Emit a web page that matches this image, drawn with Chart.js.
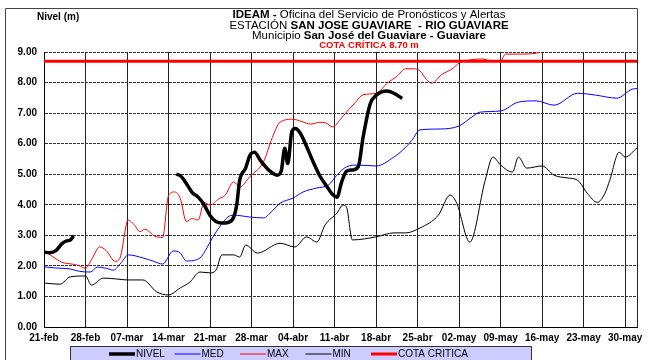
<!DOCTYPE html>
<html>
<head>
<meta charset="utf-8">
<script src="https://cdn.jsdelivr.net/npm/chart.js@4/dist/chart.umd.min.js"></script>
<style>
  body { margin: 0; background: #fff; }
</style>
</head>
<body>
<canvas id="grafico" width="653" height="360"></canvas>
<script>
// etiquetas semanales del eje x (dia 0 = 21-feb)
const fechas = ['21-feb', '28-feb', '07-mar', '14-mar', '21-mar', '28-mar', '04-abr', '11-abr',
  '18-abr', '25-abr', '02-may', '09-may', '16-may', '23-may', '30-may'];

// NIVEL (dias desde 21-feb, nivel en m) - null corta la linea
const nivelDias = [0, 1, 2, 3, 3.8, 4.4, 5, 10,
  22.3, 23, 24, 25, 26, 27, 28, 29, 30, 31, 32, 32.5, 33, 34, 34.8, 35.5, 36.5, 38, 39.3, 40, 40.6, 41.1,
  41.8, 42.4, 43.2, 44.3, 45.4, 46.5, 47.7, 48.6, 49.4, 50.2, 51, 52, 53, 53.8, 55, 56, 57.8, 59, 60.4];
const nivelValores = [2.45, 2.43, 2.5, 2.72, 2.82, 2.84, 2.98, null,
  5.0, 4.95, 4.7, 4.4, 4.25, 4.0, 3.65, 3.45, 3.4, 3.42, 3.6, 4.0, 4.8, 5.2, 5.65, 5.72, 5.45, 5.12, 4.97, 5.1, 5.85, 5.35,
  6.4, 6.5, 6.35, 5.9, 5.4, 4.95, 4.6, 4.35, 4.25, 4.75, 5.1, 5.14, 5.25, 6.2, 7.3, 7.58, 7.72, 7.65, 7.48];

const medDias = [0, 2, 4.4, 6, 7.8, 9, 10.5, 11.7, 13, 14.2, 16.7, 18.5, 20, 21.8, 23, 24, 26.3, 27.5, 28.5,
  29.7, 31, 32, 34.7, 37, 38.5, 39.8, 42, 43.7, 46, 48, 49.4, 51, 53, 56, 59, 60.5, 62, 63.4, 66.8, 70,
  72, 73.5, 77, 80, 83, 86, 90, 93, 96.6, 99.3, 100];
const medValores = [1.97, 1.93, 1.9, 1.82, 1.8, 1.96, 1.92, 1.86, 2.1, 2.36, 2.26, 2.15, 2.06, 2.49, 2.42, 2.16, 2.26, 2.6, 2.95,
  3.3, 3.6, 3.66, 3.6, 3.57, 3.8, 4.05, 4.22, 4.42, 4.55, 4.65, 4.97, 5.24, 5.3, 5.27, 5.56, 5.79, 6.1, 6.45, 6.48, 6.58,
  6.85, 7.03, 7.07, 7.36, 7.4, 7.26, 7.65, 7.59, 7.49, 7.79, 7.8];

const maxDias = [0, 1.5, 3, 5, 6, 7, 8, 9.4, 10.5, 12, 12.8, 14.2, 15.2, 16.2, 17, 18.7, 20, 21, 22, 23, 24, 25, 26,
  27, 28, 29.5, 30.5, 32, 33, 34.7, 37, 38.5, 39.8, 42, 43.5, 45, 46.5, 47.5, 48.7, 50, 51, 52.5, 53.8, 56,
  58, 59.5, 61, 62.5, 63.4, 64.5, 65.4, 67, 69, 70, 71.5, 74, 75.5, 77, 77.8, 80, 83, 84, 86, 90, 95, 100];
const maxValores = [2.49, 2.3, 2.12, 2.05, 2.0, 1.92, 2.2, 2.62, 2.5, 2.15, 2.25, 3.5, 3.35, 3.12, 3.2, 2.97, 2.93, 4.3, 4.42, 4.2, 3.45, 3.55, 3.5,
  4.08, 3.99, 4.2, 4.3, 4.75, 4.58, 4.92, 5.4, 6.2, 6.7, 6.8, 6.72, 6.64, 6.7, 6.68, 6.55, 6.8, 7.03, 7.35, 7.6, 7.65,
  8.0, 8.2, 8.45, 8.45, 8.38, 8.1, 7.98, 8.25, 8.47, 8.64, 8.73, 8.77, 8.7, 8.7, 8.93, 8.93, 8.96, 9.03, 9.2, 9.3, 9.4, 9.5];

const minDias = [0, 2.7, 4.4, 7, 8, 10, 12.3, 14, 16.7, 19, 21, 23, 24.6, 26.3, 28, 29, 30, 32, 33, 34, 36, 39.8,
  42.3, 44.3, 46, 47.4, 49.4, 50.4, 51, 52, 56, 59, 61, 63.4, 66.5, 68.5, 69.6, 71.8, 74.4, 75.7, 77, 79, 80,
  81.4, 84, 86, 88.2, 90, 91.6, 93.3, 94.6, 95.4, 97, 98, 100];
const minValores = [1.44, 1.4, 1.64, 1.67, 1.37, 1.6, 1.57, 1.54, 1.54, 1.15, 1.05, 1.28, 1.47, 1.8, 1.77, 1.86, 2.36, 2.36, 2.29, 2.68, 2.42, 2.74,
  2.62, 2.95, 2.78, 3.34, 3.73, 3.99, 3.93, 2.85, 2.95, 3.08, 3.08, 3.24, 3.66, 4.32, 4.05, 2.78, 4.8, 5.56, 5.3, 5.07, 5.56,
  5.2, 5.27, 4.97, 4.88, 4.8, 4.38, 4.08, 4.38, 4.8, 5.72, 5.56, 5.86];

const cotaCritica = 8.7;
const diasTotales = 100;

const puntos = (dias, vals) => dias.map((d, i) => ({ x: d, y: vals[i] }));

Chart.defaults.font.family = "'Liberation Sans', Arial, sans-serif";
Chart.defaults.color = '#000';

// titulo con partes en negrita
const titulo = {
  id: 'titulo',
  afterDraw(chart) {
    const ctx = chart.ctx;
    const lineas = [
      { y: 15, partes: [['bold', 'IDEAM - '], ['normal', 'Oficina del Servicio de Pronósticos y Alertas']] },
      { y: 26, partes: [['normal', 'ESTACIÓN '], ['bold', 'SAN JOSE GUAVIARE  - RIO GUAVIARE']] },
      { y: 36, partes: [['normal', 'Municipio '], ['bold', 'San José del Guaviare - Guaviare']] }
    ];
    ctx.save();
    ctx.textBaseline = 'middle';
    ctx.fillStyle = '#000';
    lineas.forEach(l => {
      let ancho = 0;
      l.partes.forEach(p => { ctx.font = p[0] + " 11.5px 'Liberation Sans', Arial"; ancho += ctx.measureText(p[1]).width; });
      let x = 369 - ancho / 2;
      l.partes.forEach(p => {
        ctx.font = p[0] + " 11.5px 'Liberation Sans', Arial";
        ctx.textAlign = 'left';
        ctx.fillText(p[1], x, l.y);
        x += ctx.measureText(p[1]).width;
      });
    });
    ctx.font = "bold 9.5px 'Liberation Sans', Arial";
    ctx.fillStyle = '#ff0000';
    ctx.textAlign = 'center';
    ctx.fillText('COTA CRÍTICA 8.70 m', 369, 45);
    ctx.fillStyle = '#000';
    ctx.textAlign = 'left';
    ctx.font = "bold 10px 'Liberation Sans', Arial";
    ctx.fillText('Nivel (m)', 37, 17);
    // marco
    ctx.strokeStyle = '#444';
    ctx.lineWidth = 1;
    ctx.beginPath();
    ctx.moveTo(5.5, 360);
    ctx.lineTo(5.5, 8.5);
    ctx.lineTo(637.5, 8.5);
    ctx.lineTo(637.5, chart.chartArea.top);
    ctx.stroke();
    ctx.restore();
  }
};

// leyenda en caja lila
const leyenda = {
  id: 'leyenda',
  afterDraw(chart) {
    const ctx = chart.ctx;
    ctx.save();
    ctx.fillStyle = '#ccccff';
    ctx.strokeStyle = '#333';
    ctx.lineWidth = 1;
    ctx.fillRect(70.5, 346.5, 461, 16);
    ctx.strokeRect(70.5, 346.5, 461, 16);
    ctx.font = "10px 'Liberation Sans', Arial";
    ctx.textBaseline = 'middle';
    ctx.textAlign = 'left';
    chart.data.datasets.forEach((ds, i) => {
      const x = 109 + i * 65.5;
      const y = 354;
      ctx.strokeStyle = ds.borderColor;
      ctx.lineWidth = ds.borderWidth;
      ctx.beginPath();
      ctx.moveTo(x, y);
      ctx.lineTo(x + 26, y);
      ctx.stroke();
      ctx.fillStyle = '#000';
      ctx.fillText(ds.label, x + 27, y);
    });
    ctx.restore();
  }
};

new Chart(document.getElementById('grafico'), {
  type: 'line',
  data: {
    datasets: [
      { label: 'NIVEL', data: puntos(nivelDias, nivelValores), borderColor: '#000', borderWidth: 3.5 },
      { label: 'MED', data: puntos(medDias, medValores), borderColor: '#0000ff', borderWidth: 1 },
      { label: 'MAX', data: puntos(maxDias, maxValores), borderColor: '#ff0000', borderWidth: 1 },
      { label: 'MIN', data: puntos(minDias, minValores), borderColor: '#000', borderWidth: 1 },
      { label: 'COTA CRITICA', data: [{ x: 0, y: cotaCritica }, { x: diasTotales, y: cotaCritica }], borderColor: '#ff0000', borderWidth: 3 }
    ]
  },
  options: {
    responsive: false,
    animation: false,
    devicePixelRatio: 1,
    layout: { padding: { left: 0, right: 16, top: 52, bottom: 0 } },
    elements: {
      point: { radius: 0 },
      line: { cubicInterpolationMode: 'monotone', fill: false }
    },
    plugins: {
      legend: { display: false },
      tooltip: { enabled: false }
    },
    scales: {
      x: {
        type: 'linear',
        min: 0,
        max: diasTotales,
        afterBuildTicks: (scale) => {
          const t = fechas.map((f, i) => ({ value: i * 7 }));
          t.push({ value: diasTotales });
          scale.ticks = t;
        },
        afterFit: (scale) => { scale.height = 33; },
        ticks: {
          autoSkip: false,
          maxRotation: 0,
          padding: 5,
          font: { size: 10, weight: 'bold' },
          callback: (v) => (v % 7 === 0 ? fechas[v / 7] : '')
        },
        grid: { color: '#222', lineWidth: 1, drawTicks: false },
        border: { color: '#000', width: 1 }
      },
      y: {
        min: 0,
        max: 9,
        afterFit: (scale) => { scale.width = 44; },
        ticks: {
          stepSize: 1,
          padding: 7,
          font: { size: 10, weight: 'bold' },
          callback: (v) => v.toFixed(2)
        },
        grid: { color: '#333', lineWidth: 1, drawTicks: false },
        border: { color: '#000', width: 1, dash: [3, 1] }
      }
    }
  },
  plugins: [titulo, leyenda]
});
</script>
</body>
</html>
